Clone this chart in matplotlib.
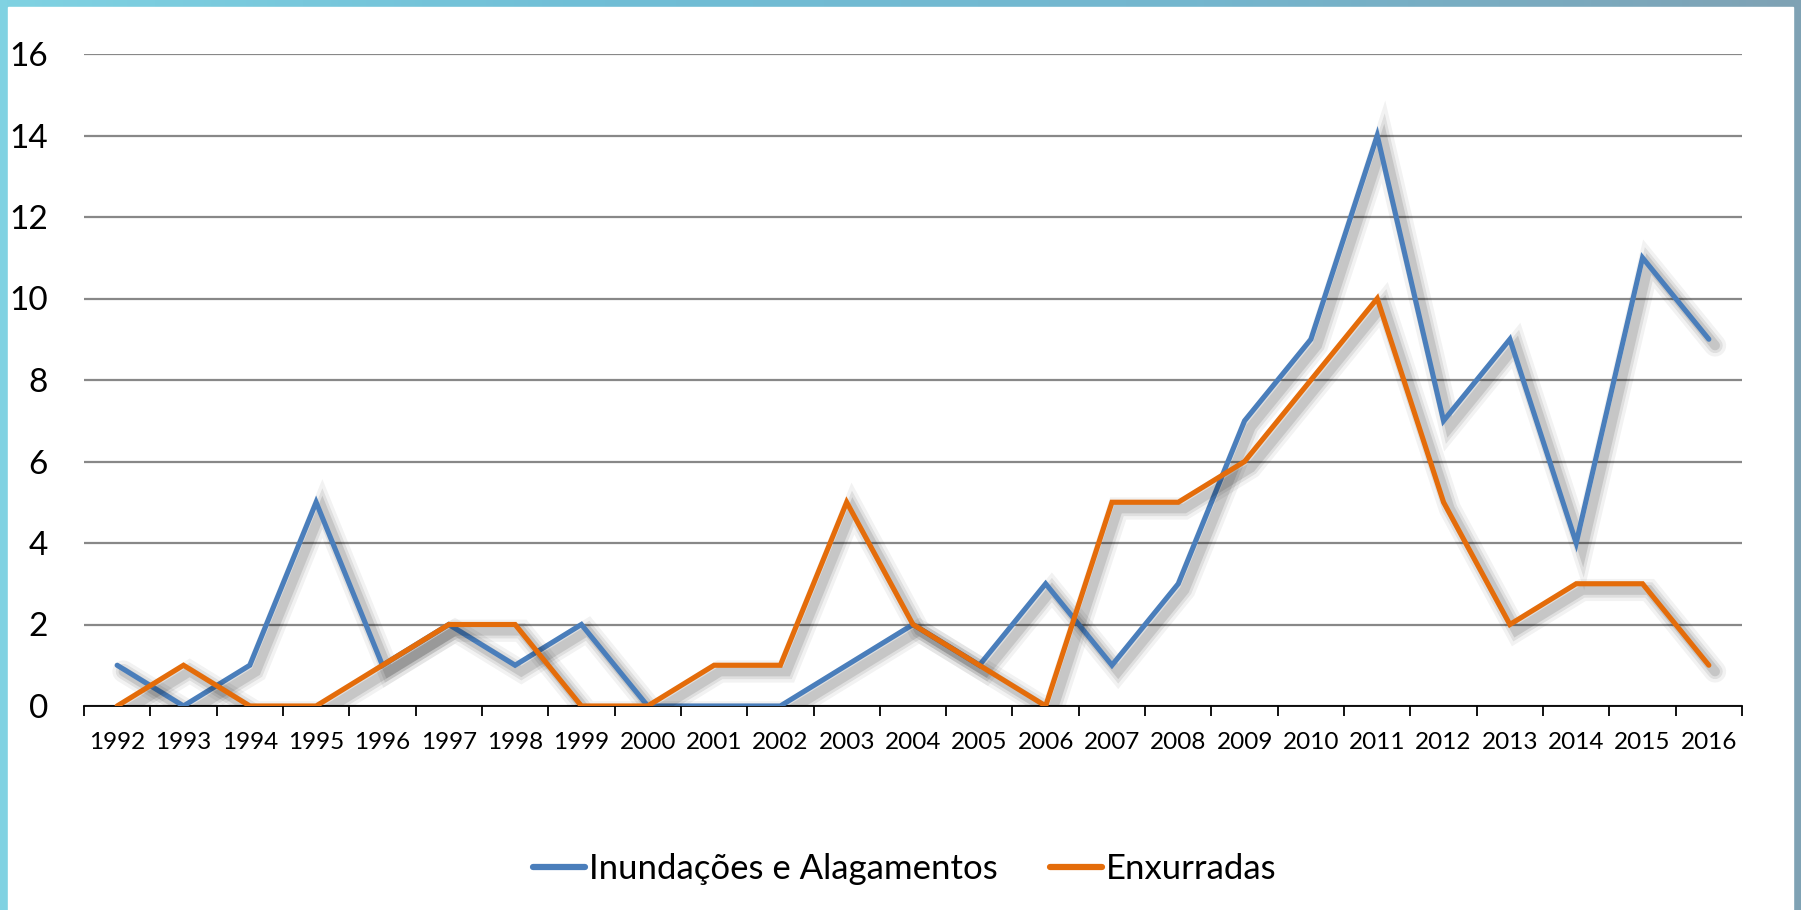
import numpy as np
import matplotlib
matplotlib.use("Agg")
import matplotlib.pyplot as plt
import matplotlib.patheffects as pe
from matplotlib.colors import LinearSegmentedColormap

years = [str(y) for y in range(1992, 2017)]
inundacoes = [1, 0, 1, 5, 1, 2, 1, 2, 0, 0, 0, 1, 2, 1, 3, 1, 3, 7, 9, 14, 7, 9, 4, 11, 9]
enxurradas = [0, 1, 0, 0, 1, 2, 2, 0, 0, 1, 1, 5, 2, 1, 0, 5, 5, 6, 8, 10, 5, 2, 3, 3, 1]
series_names = ["Inundações e Alagamentos", "Enxurradas"]
colors = ["#4A7EBB", "#E46C0A"]
yticks = [0, 2, 4, 6, 8, 10, 12, 14, 16]

plt.rcParams['font.family'] = ['Lato', 'DejaVu Sans']

W, H = 1801, 910
fig = plt.figure(figsize=(W / 100, H / 100), dpi=100)

# background gradient border
bg = fig.add_axes([0, 0, 1, 1])
cmap = LinearSegmentedColormap.from_list("b", ["#80D2E2", "#70BED6", "#74B6CE", "#7FA2B4"])
grad = np.linspace(0, 1, 256).reshape(1, -1)
bg.imshow(grad, aspect="auto", cmap=cmap, extent=[0, 1, 0, 1])
bg.add_patch(plt.Rectangle((8 / W, 0), (1793 - 8) / W, (H - 7) / H, color="white", zorder=2))
bg.set_xlim(0, 1)
bg.set_ylim(0, 1)
bg.axis("off")

ax = fig.add_axes([84 / W, 204 / H, (1742 - 84) / W, (706 - 54) / H])
ax.set_facecolor("none")
x = np.arange(len(years))

off = (4.5, -4.5)
shadow = [
    pe.SimpleLineShadow(offset=off, shadow_color="black", alpha=0.05, linewidth=16),
    pe.SimpleLineShadow(offset=off, shadow_color="black", alpha=0.08, linewidth=11),
    pe.SimpleLineShadow(offset=off, shadow_color="black", alpha=0.11, linewidth=7),
    pe.Normal(),
]

for vals, name, c in zip([inundacoes, enxurradas], series_names, colors):
    ax.plot(x, vals, color=c, lw=3.7, label=name, solid_joinstyle="miter",
            solid_capstyle="round", path_effects=shadow, zorder=3)

ax.set_xlim(-0.5, len(years) - 0.5)
ax.set_ylim(0, 16)
ax.set_yticks(yticks)
ax.set_yticklabels([str(v) for v in yticks], fontsize=24)
ax.tick_params(axis="y", length=0, pad=26)
for lbl in ax.get_yticklabels():
    lbl.set_horizontalalignment("right")
ax.yaxis.grid(True, color="#888888", lw=1.6)
ax.set_axisbelow(True)

ax.set_xticks(np.arange(-0.5, len(years), 1))
ax.set_xticklabels([])
ax.set_xticks(x, minor=True)
ax.set_xticklabels(years, minor=True, fontsize=17.5)
ax.tick_params(axis="x", which="major", length=7, width=1.3, color="black", direction="out")
ax.tick_params(axis="x", which="minor", length=0, pad=19)

for s in ["left", "right", "top"]:
    ax.spines[s].set_visible(False)
ax.spines["bottom"].set_color("black")
ax.spines["bottom"].set_linewidth(1.3)
ax.spines["bottom"].set_zorder(2)

leg = fig.legend(loc="center", bbox_to_anchor=(905 / W, 1 - 869 / H), ncol=2, frameon=False,
                 fontsize=25, handlelength=1.5, handletextpad=0.12, columnspacing=1.5)
for h in leg.get_lines():
    h.set_linewidth(4.5)
    h.set_path_effects([])

fig.savefig("out.png", dpi=100)
